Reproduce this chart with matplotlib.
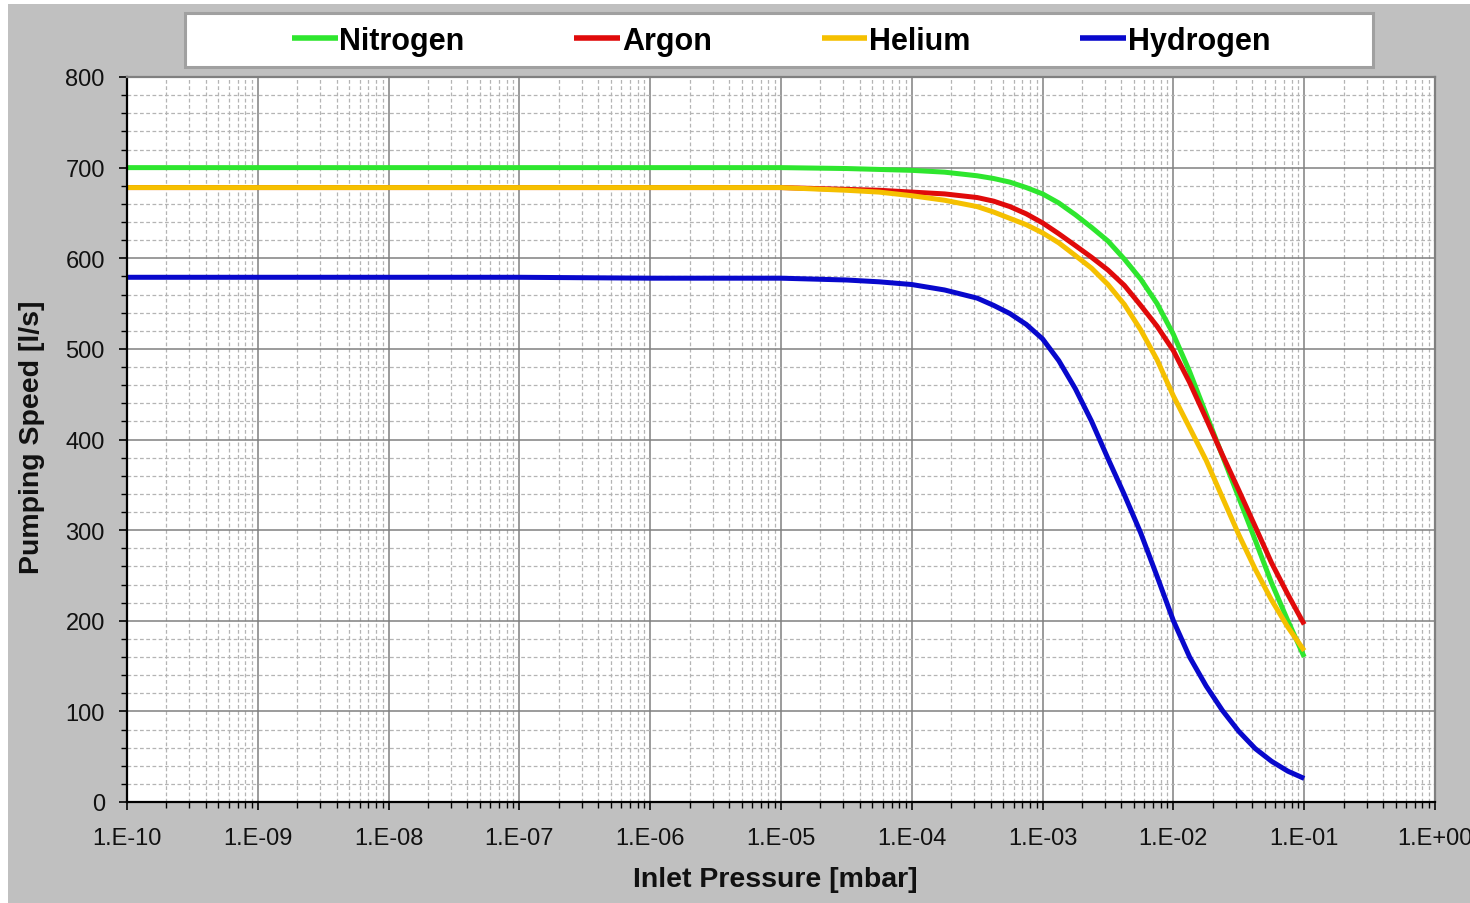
import matplotlib
matplotlib.use("Agg")
import matplotlib.pyplot as plt
from matplotlib.patches import Rectangle
from matplotlib.ticker import LogLocator, MultipleLocator, FuncFormatter, NullFormatter
import numpy as np

plt.rcParams["font.family"] = ["Liberation Sans", "DejaVu Sans"]

# -------------------------
# data
# -------------------------
pressure_mbar = [1e-10, 1e-9, 1e-8, 1e-7, 1e-6, 1e-5, 3.16e-5, 5.62e-5, 1e-4,
                 1.78e-4, 3.16e-4, 4.22e-4, 5.62e-4, 7.50e-4, 1e-3, 1.33e-3,
                 1.78e-3, 2.37e-3, 3.16e-3, 4.22e-3, 5.62e-3, 7.50e-3, 1e-2,
                 1.33e-2, 1.78e-2, 2.37e-2, 3.16e-2, 4.22e-2, 5.62e-2, 7.50e-2, 1e-1]

nitrogen = [700, 700, 700, 700, 700, 700, 699, 698, 697, 695, 691, 688, 684,
            678, 671, 661, 648, 634, 619, 599, 577, 550, 516, 475, 428, 382,
            336, 289, 242, 200, 160]
argon = [678, 678, 678, 678, 678, 678, 676, 675, 673, 671, 667, 663, 657,
         649, 639, 627, 614, 601, 587, 570, 548, 525, 498, 463, 423, 383,
         344, 304, 264, 229, 196]
helium = [678, 678, 678, 678, 678, 678, 675, 673, 669, 664, 657, 651, 644,
          637, 628, 617, 603, 589, 571, 549, 521, 488, 448, 413, 377, 336,
          295, 257, 223, 193, 167]
hydrogen = [579, 579, 579, 579, 578, 578, 576, 574, 571, 565, 556, 548, 539,
            527, 511, 487, 456, 420, 379, 339, 297, 249, 200, 160, 128, 101,
            78, 59, 45, 34, 26]

gases = ["Nitrogen", "Argon", "Helium", "Hydrogen"]
colors = ["#2ee62e", "#e00a0a", "#f5c000", "#0808cc"]

# -------------------------
# figure
# -------------------------
W, H = 1470, 904
fig = plt.figure(figsize=(W / 100, H / 100), dpi=100)
fig.patch.set_facecolor("white")

# grey chart area
fig.patches.append(Rectangle((8 / W, 0), 1 - 8 / W, 1 - 5 / H, transform=fig.transFigure,
                             facecolor="#c0c0c0", edgecolor="none", zorder=-2))
# legend box
fig.patches.append(Rectangle((185 / W, 1 - 68 / H), (1373 - 185) / W, 54 / H,
                             transform=fig.transFigure, facecolor="white",
                             edgecolor="#a0a0a0", linewidth=2.2, zorder=-1))

ax = fig.add_axes([127 / W, 1 - 803 / H, (1435 - 127) / W, (803 - 78) / H])
ax.set_zorder(2)
ax.set_facecolor("white")

for name, vals, c in zip(gases, [nitrogen, argon, helium, hydrogen], colors):
    ax.plot(pressure_mbar, vals, color=c, lw=3.6, label=name,
            solid_capstyle="butt", solid_joinstyle="round")

ax.set_xscale("log")
ax.set_xlim(1e-10, 1)
ax.set_ylim(0, 800)

ax.xaxis.set_major_locator(LogLocator(base=10, numticks=20))
ax.xaxis.set_minor_locator(LogLocator(base=10, subs=np.arange(2, 10), numticks=20))
ax.xaxis.set_minor_formatter(NullFormatter())
ax.xaxis.set_major_formatter(FuncFormatter(lambda v, p: "1.E%+03d" % int(round(np.log10(v)))))
ax.yaxis.set_major_locator(MultipleLocator(100))
ax.yaxis.set_minor_locator(MultipleLocator(20))

ax.grid(which="major", color="#808080", lw=1.1, ls="-")
ax.grid(which="minor", color="#b4b4b4", lw=0.9, ls=(0, (3, 2)))
ax.set_axisbelow(True)

ax.tick_params(which="major", direction="out", length=6, width=1.2, color="black",
               labelsize=17)
ax.tick_params(which="minor", direction="out", length=4, width=1.0, color="black")
ax.tick_params(axis="y", pad=10)
ax.tick_params(axis="x", pad=12)
for lab in ax.get_xticklabels() + ax.get_yticklabels():
    lab.set_color("#111111")

ax.spines["left"].set_color("black")
ax.spines["bottom"].set_color("black")
ax.spines["left"].set_linewidth(1.6)
ax.spines["bottom"].set_linewidth(1.6)
ax.spines["top"].set_color("#808080")
ax.spines["right"].set_color("#808080")
ax.spines["top"].set_linewidth(1.6)
ax.spines["right"].set_linewidth(1.6)

fig.text(32 / W, 1 - 437 / H, "Pumping Speed [l/s]", rotation=90, ha="center",
         va="center", fontsize=20.5, fontweight="bold", color="#111111")
fig.text(775 / W, 1 - 880 / H, "Inlet Pressure [mbar]", ha="center", va="center",
         fontsize=20.5, fontweight="bold", color="#111111")

handles, labels = ax.get_legend_handles_labels()
leg = fig.legend(handles, labels, loc="center", bbox_to_anchor=(781 / W, 1 - 42 / H),
                 ncol=4, frameon=False, prop={"size": 22, "weight": "bold"},
                 handlelength=1.5, handletextpad=0.05, columnspacing=3.6)
for line in leg.get_lines():
    line.set_linewidth(4)

fig.savefig("out.png", dpi=100, facecolor=fig.get_facecolor())
